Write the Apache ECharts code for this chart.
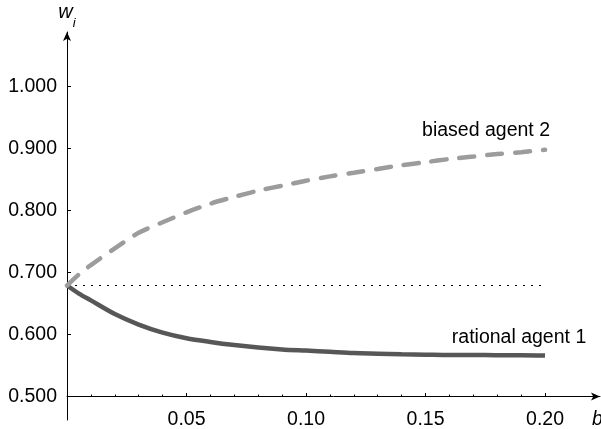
<!DOCTYPE html>
<html>
<head>
<meta charset="utf-8">
<script src="https://cdn.jsdelivr.net/npm/echarts@6/dist/echarts.min.js"></script>
<style>
html,body{margin:0;padding:0;background:#fff;}
#c{width:601px;height:429px;}
</style>
</head>
<body>
<div id="c"></div>
<script>
// b values (x axis)
const bValues = [0, 0.005, 0.01, 0.02, 0.03, 0.04, 0.05, 0.06, 0.07, 0.08, 0.09, 0.10,
                 0.11, 0.12, 0.13, 0.14, 0.15, 0.16, 0.17, 0.18, 0.19, 0.20];
// rational agent 1
const rationalW = [0.679, 0.666, 0.655, 0.633, 0.616, 0.603, 0.594, 0.588, 0.583, 0.579, 0.576, 0.574,
                   0.572, 0.570, 0.569, 0.568, 0.5675, 0.567, 0.567, 0.5665, 0.5665, 0.566];
// biased agent 2
const biasedW = [0.679, 0.697, 0.712, 0.739, 0.764, 0.781, 0.797, 0.811, 0.822, 0.832, 0.840, 0.848,
                 0.855, 0.861, 0.867, 0.873, 0.878, 0.883, 0.887, 0.891, 0.894, 0.898];
// reference (dotted) level
const refLevelX = [0, 0.20];
const refLevelW = [0.679, 0.679];
// tick labels
const yTicks = [0.5, 0.6, 0.7, 0.8, 0.9, 1.0];
const xMajorTicks = [0.05, 0.10, 0.15, 0.20];
const xMinorTicks = [0.01,0.02,0.03,0.04,0.05,0.06,0.07,0.08,0.09,0.10,0.11,0.12,0.13,0.14,0.15,0.16,0.17,0.18,0.19,0.20];
const seriesNames = ['rational agent 1', 'biased agent 2'];

const FONT = 'Liberation Sans, Arial, Helvetica, sans-serif';
const FS = 19.5;
const zip = (xs, ys) => xs.map((x, i) => [x, ys[i]]);
// label only the last point of a curve
const withEndLabel = (pts) => pts.map((p, i) => i === pts.length - 1 ? {value: p, label: {show: true}} : p);

const chart = echarts.init(document.getElementById('c'), null, {renderer: 'canvas'});
chart.setOption({
  backgroundColor: '#fff',
  animation: false,
  grid: {left: 67, right: 1, top: 32, bottom: 9, containLabel: false, outerBoundsMode: 'none'},
  xAxis: [{
    type: 'value', min: 0, max: 0.223, interval: 0.05,
    offset: -23.5,
    name: 'b',
    nameLocation: 'end', nameGap: -8,
    nameTextStyle: {fontFamily: FONT, fontStyle: 'italic', fontSize: FS, color: '#000',
                    align: 'left', verticalAlign: 'top', padding: [13, 0, 0, 0]},
    axisLine: {show: true, lineStyle: {color: '#000', width: 1},
               symbol: ['none', 'arrow'], symbolSize: [6, 9]},
    axisTick: {show: true, inside: true, length: 2, customValues: xMinorTicks,
               lineStyle: {color: '#000', width: 1}},
    axisLabel: {show: true, customValues: xMajorTicks, margin: 13,
                formatter: v => v.toFixed(2), fontFamily: FONT, fontSize: FS, color: '#000'},
    splitLine: {show: false}
  }, {
    type: 'value', min: 0, max: 0.223, interval: 0.05, offset: -23.5, position: 'bottom',
    axisLine: {show: false},
    axisTick: {show: true, inside: true, length: 3.5, customValues: xMajorTicks,
               lineStyle: {color: '#000', width: 1}},
    axisLabel: {show: false}, splitLine: {show: false}
  }],
  yAxis: {
    type: 'value', min: 0.4621, max: 1.0879,
    name: '{w|w}{i|i}',
    nameLocation: 'end', nameGap: 10,
    nameTextStyle: {
      rich: {
        w: {fontFamily: FONT, fontStyle: 'italic', fontSize: 20, color: '#000'},
        i: {fontFamily: FONT, fontStyle: 'italic', fontSize: 13, color: '#000', verticalAlign: 'bottom', padding: [0,0,-8,0]}
      }
    },
    axisLine: {show: true, lineStyle: {color: '#000', width: 1},
               symbol: ['none', 'arrow'], symbolSize: [6, 9]},
    axisTick: {show: true, inside: true, length: 4, customValues: yTicks,
               lineStyle: {color: '#000', width: 1}},
    axisLabel: {show: true, customValues: yTicks, margin: 10,
                formatter: v => v.toFixed(3), fontFamily: FONT, fontSize: FS, color: '#000'},
    splitLine: {show: false}
  },
  series: [{
    name: 'level', type: 'line', data: zip(refLevelX, refLevelW), showSymbol: false, silent: true,
    lineStyle: {color: '#000', width: 1.2, type: [2, 6]}
  }, {
    name: seriesNames[0], type: 'line', data: withEndLabel(zip(bValues, rationalW)),
    showSymbol: true, symbol: 'circle', symbolSize: 0, smooth: 0.3,
    lineStyle: {color: '#575757', width: 4.5},
    label: {show: false, formatter: '{a}', position: 'top', distance: 4, offset: [-26, -4],
            fontFamily: FONT, fontSize: FS, color: '#000'}
  }, {
    name: seriesNames[1], type: 'line', data: withEndLabel(zip(bValues, biasedW)),
    showSymbol: true, symbol: 'circle', symbolSize: 0, smooth: 0.3,
    lineStyle: {color: '#9c9c9c', width: 4.5, type: [15, 13], cap: 'round'},
    label: {show: false, formatter: '{a}', position: 'top', distance: 4, offset: [-59, -5],
            fontFamily: FONT, fontSize: FS, color: '#000'}
  }]
});
</script>
</body>
</html>
